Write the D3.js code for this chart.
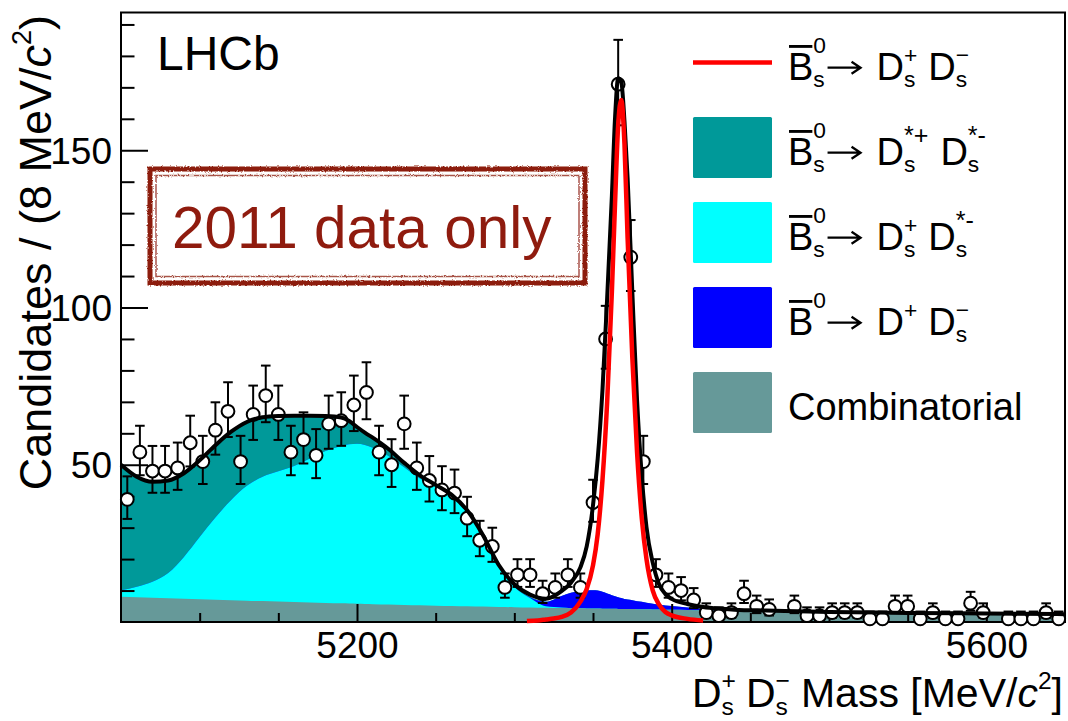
<!DOCTYPE html>
<html><head><meta charset="utf-8">
<script src="https://cdn.jsdelivr.net/npm/d3@7"></script>
<style>
body{margin:0;background:#fff}
svg{display:block}
text{font-family:"Liberation Sans",Arial,Helvetica,sans-serif;fill:#000}
</style>
</head><body>
<svg id="c" width="1068" height="721"></svg>
<script>
// ---------------- data ----------------
const binLow = 5050, binWidth = 8;
const counts = [39,54,48,48,49,57,51,61,67,51,
                66,72,66,54,58,53,63,64,69,73,
                54,50,63,49,45,42,41,33,26,24,
                11,15,15,9,11,15,11,38,90,171,
                116,51,15,11,10,7,3,2,3,9,
                5,4,null,5,2,2,3,3,3,1,
                1,5,5,1,3,1,1,6,3,null,
                1,1,1,3,1];

const massGrid = [5050,5060,5070,5080,5090,5100,5110,5120,5130,5140,
                  5150,5160,5170,5180,5190,5195,5200,5205,5210,5220,
                  5230,5240,5250,5260,5270,5280,5290,5300,5310,5320,
                  5330,5336,5342,5346,5350,5353,5356,5359,5362,5364,
                  5366,5368,5370,5372,5375,5378,5381,5384,5388,5392,
                  5396,5400,5410,5420,5430,5440,5460,5480,5500,5550,
                  5600,5650];
const combVals = [8.0,7.84,7.68,7.52,7.36,7.2,7.06,6.92,6.78,6.64,
                  6.5,6.36,6.22,6.08,5.94,5.87,5.8,5.74,5.68,5.56,
                  5.44,5.32,5.2,5.1,5.0,4.9,4.8,4.7,4.62,4.54,
                  4.46,4.41,4.36,4.33,4.3,4.28,4.25,4.23,4.2,4.19,
                  4.17,4.16,4.14,4.12,4.1,4.08,4.05,4.03,4.0,3.96,
                  3.93,3.9,3.82,3.74,3.66,3.58,3.44,3.32,3.2,2.9,
                  2.7,2.5];
const cyanVals = [2.1,3.36,5.12,8.08,13.34,19.8,26.14,31.88,36.52,39.56,
                  41.4,43.24,45.78,48.32,50.06,50.63,50.9,50.56,49.72,47.24,
                  43.76,40.28,37.8,35.1,30.4,22.7,13.2,6.4,2.98,0.46,
                  0.14,0,0,0,0,0,0,0,0,0,
                  0,0,0,0,0,0,0,0,0,0,
                  0,0,0,0,0,0,0,0,0,0,
                  0,0];
const tealVals = [39.9,35.0,31.8,29.4,26.6,24.4,23.0,21.7,20.3,18.9,
                  17.6,16.0,13.6,11.1,9.0,7.4,5.3,3.9,3.2,2.2,
                  1.4,1.0,0.6,0.3,0.1,0.1,0.2,0.5,0.3,0.1,
                  0,0,0,0,0,0,0,0,0,0,
                  0,0,0,0,0,0,0,0,0,0,
                  0,0,0,0,0,0,0,0,0,0,
                  0,0];
const blueVals = [0,0,0,0,0,0,0,0,0,0,
                  0,0,0,0,0,0,0,0,0,0,
                  0,0,0,0,0,0,0,0,0.2,1.4,
                  3.7,4.9,5.5,5.7,5.8,5.7,5.35,4.8,4.3,4.0,
                  3.7,3.45,3.15,3.0,2.8,2.5,2.35,2.1,1.8,1.55,
                  1.35,1.15,0.8,0.45,0.2,0.05,0,0,0,0,
                  0,0];
// signal part contained in the total fit (black line)
const fitSigVals = [0,0,0,0,0,0,0,0,0,0,
                    0,0,0,0,0,0,0,0,0,0,
                    0,0,0,0,0,0,0,0.4,0.6,0.9,
                    1.5,3.2,7.5,14,27,42,64,94,127,152,
                    165,164,152,134,98,64,40,24,13,6.5,
                    3.6,2.3,1.1,0.6,0.4,0.3,0.2,0.1,0,0,
                    0,0];
// red signal component curve
const sigMass = [5308,5315,5320,5325,5330,5336,5342,5346,5350,5353,
                 5356,5359,5362,5364,5366,5368,5370,5372,5375,5378,
                 5381,5384,5388,5392,5396,5400,5410,5420];
const sigVals = [0.3,0.5,0.8,1.1,1.6,3.0,6.5,10.5,18,28,
                 45,70,105,133,158,166,152,122,84,54,
                 33,20,10,5.5,3.2,2.1,1.0,0.5];

const yMajor = [50,100,150];
const xMajor = [5200,5400,5600];

// ---------------- layout ----------------
const svg = d3.select('#c');
const X0 = 121, X1 = 1065, Y0 = 622, Y1 = 12.5;
const x = d3.scaleLinear().domain([5050,5650]).range([X0,X1]);
const y = d3.scaleLinear().domain([0,193.8]).range([Y0,Y1]);

const defs = svg.append('defs');
defs.append('clipPath').attr('id','clip')
  .append('rect').attr('x',X0).attr('y',Y1).attr('width',X1-X0).attr('height',Y0-Y1);
const rough = defs.append('filter').attr('id','rough').attr('x','-5%').attr('y','-5%').attr('width','110%').attr('height','110%');
rough.append('feTurbulence').attr('type','fractalNoise').attr('baseFrequency','0.6').attr('numOctaves',2).attr('seed',3).attr('result','n');
rough.append('feDisplacementMap').attr('in','SourceGraphic').attr('in2','n').attr('scale',3).attr('xChannelSelector','R').attr('yChannelSelector','G');

// stacked background components
const rows = massGrid.map((m,i)=>({m, comb:combVals[i], cyan:cyanVals[i], blue:blueVals[i], teal:tealVals[i]}));
const keys = ['comb','cyan','blue','teal'];
const colors = {comb:'#669999', cyan:'#00ffff', blue:'#0000ff', teal:'#009999'};
const stacked = d3.stack().keys(keys)(rows);
const gF = svg.append('g').attr('clip-path','url(#clip)');
for (let k = keys.length-1; k >= 0; k--) {
  const area = d3.area()
    .x(d=>x(d.data.m)).y0(y(0)).y1(d=>y(d[1]))
    .curve(d3.curveMonotoneX);
  gF.append('path').datum(stacked[k]).attr('d',area).attr('fill',colors[keys[k]]);
}

// axes
const gA = svg.append('g');
const yAx = d3.axisLeft(y).tickValues(yMajor).tickSize(-27).tickPadding(9).tickFormat(d3.format('d'));
const yAxMin = d3.axisLeft(y).tickValues(d3.range(10,194,10).filter(v=>!yMajor.includes(v))).tickSize(-13.5).tickFormat('');
const xAx = d3.axisBottom(x).tickValues(xMajor).tickSize(-18).tickPadding(10).tickFormat(d3.format('d'));
const xAxMin = d3.axisBottom(x).tickValues(d3.range(5100,5650,50).filter(v=>!xMajor.includes(v))).tickSize(-9).tickFormat('');
function style(g){
  g.select('.domain').remove();
  g.selectAll('line').attr('stroke','#000').attr('stroke-width',2);
  g.selectAll('text').attr('font-size',37).attr('font-family','"Liberation Sans",Arial,sans-serif').attr('fill','#000');
}
gA.append('g').attr('transform',`translate(${X0},0)`).call(yAxMin).call(style);
gA.append('g').attr('transform',`translate(${X0},0)`).call(yAx).call(style)
  .selectAll('text').attr('dy','0.35em');
gA.append('g').attr('transform',`translate(0,${Y0})`).call(xAxMin).call(style);
gA.append('g').attr('transform',`translate(0,${Y0})`).call(xAx).call(style);
gA.append('rect').attr('x',X0).attr('y',Y1).attr('width',X1-X0).attr('height',Y0-Y1)
  .attr('fill','none').attr('stroke','#000').attr('stroke-width',2);

// data points
const pts = counts.map((n,i)=>({m: binLow + binWidth*(i+0.5), n})).filter(d=>d.n!==null);
const gD = svg.append('g');
pts.forEach(d=>{
  const lo = d.n - Math.sqrt(Math.max(d.n-0.25,0));
  const hi = d.n + Math.sqrt(d.n+0.75) + 1;
  const cx = x(d.m);
  gD.append('line').attr('x1',cx).attr('x2',cx).attr('y1',y(lo)).attr('y2',y(hi)).attr('stroke','#000').attr('stroke-width',2);
  gD.append('line').attr('x1',cx-4.8).attr('x2',cx+4.8).attr('y1',y(hi)).attr('y2',y(hi)).attr('stroke','#000').attr('stroke-width',2);
  gD.append('line').attr('x1',cx-4.8).attr('x2',cx+4.8).attr('y1',y(lo)).attr('y2',y(lo)).attr('stroke','#000').attr('stroke-width',2);
});
pts.forEach(d=>{
  gD.append('circle').attr('cx',x(d.m)).attr('cy',y(d.n)).attr('r',6.4)
    .attr('fill','#fff').attr('stroke','#000').attr('stroke-width',2);
});

// total fit (black) and signal (red)
const totals = massGrid.map((m,i)=>({m, v: combVals[i]+cyanVals[i]+blueVals[i]+tealVals[i]+fitSigVals[i]}));
svg.append('path').datum(totals)
  .attr('d', d3.line().x(d=>x(d.m)).y(d=>y(d.v)).curve(d3.curveMonotoneX))
  .attr('fill','none').attr('stroke','#000').attr('stroke-width',4).attr('stroke-linejoin','round');
const sig = sigMass.map((m,i)=>({m, v: sigVals[i]}));
svg.append('path').datum(sig)
  .attr('d', d3.line().x(d=>x(d.m)).y(d=>y(d.v)).curve(d3.curveMonotoneX))
  .attr('fill','none').attr('stroke','#ff0000').attr('stroke-width',4.5).attr('stroke-linejoin','round');

// ---------------- rich text helper ----------------
function rich(parent, x0, y0, size, parts) {
  let cx = x0;
  parts.forEach(p=>{
    if (p.sp) { cx += p.sp; return; }
    if (p.arrow) {
      const ay = y0 - size*0.31, L = p.arrow;
      parent.append('path').attr('d',`M${cx},${ay}H${cx+L}M${cx+L-9},${ay-6}L${cx+L},${ay}L${cx+L-9},${ay+6}`)
        .attr('fill','none').attr('stroke','#000').attr('stroke-width',size*0.06);
      cx += L; return;
    }
    if (p.t !== undefined) {
      const t = parent.append('text').attr('x',cx).attr('y',y0).attr('font-size',size).text(p.t);
      if (p.it) t.attr('font-style','italic');
      const w = t.node().getComputedTextLength();
      if (p.bar) parent.append('line').attr('x1',cx+1).attr('x2',cx+w-1)
        .attr('y1',y0-size*0.87).attr('y2',y0-size*0.87).attr('stroke','#000').attr('stroke-width',size*0.075);
      cx += w; return;
    }
    let w = 0;
    const ss = size*0.6;
    if (p.sub) { const t = parent.append('text').attr('x',cx).attr('y',y0+size*0.2).attr('font-size',ss).text(p.sub); w = Math.max(w,t.node().getComputedTextLength()); }
    if (p.sup) {
      const off = p.hi ? 0.71 : (p.big ? 0.54 : 0.44);
      const t = parent.append('text').attr('x',cx).attr('y',y0-size*off).attr('font-size',size*(p.big?0.66:0.6)).text(p.sup);
      w = Math.max(w,t.node().getComputedTextLength());
    }
    cx += w;
  });
  return cx - x0;
}

// ---------------- legend ----------------
const legendLabels = [
  [{t:'B',bar:1},{sub:'s',sup:'0',hi:1},{sp:1.5},{arrow:33},{sp:16},{t:'D'},{sub:'s',sup:'+'},{sp:11},{t:'D'},{sub:'s',sup:'\u2212'}],
  [{t:'B',bar:1},{sub:'s',sup:'0',hi:1},{sp:1.5},{arrow:33},{sp:16},{t:'D'},{sub:'s',sup:'*+',big:1},{sp:12},{t:'D'},{sub:'s',sup:'*-',big:1}],
  [{t:'B',bar:1},{sub:'s',sup:'0',hi:1},{sp:1.5},{arrow:33},{sp:16},{t:'D'},{sub:'s',sup:'+'},{sp:11},{t:'D'},{sub:'s',sup:'*-',big:1}],
  [{t:'B',bar:1},{sup:'0',hi:1},{sp:1.5},{arrow:33},{sp:16},{t:'D'},{sup:'+'},{sp:11},{t:'D'},{sub:'s',sup:'\u2212'}],
  [{t:'Combinatorial'}]
];
const legendTypes = ['line','box','box','box','box'];
const legendColors = ['#ff0000','#009999','#00ffff','#0000ff','#669999'];
const gL = svg.append('g');
legendLabels.forEach((parts,i)=>{
  const cy = 62.5 + 85*i;
  if (legendTypes[i]==='line') {
    gL.append('line').attr('x1',693).attr('x2',772).attr('y1',cy).attr('y2',cy).attr('stroke',legendColors[i]).attr('stroke-width',4.5);
  } else {
    gL.append('rect').attr('x',693).attr('y',cy-30.5).attr('width',79).attr('height',61).attr('rx',1.5).attr('fill',legendColors[i]);
  }
  rich(gL, 788, cy+17, 38, parts);
});

// ---------------- texts ----------------
svg.append('text').attr('x',157).attr('y',70).attr('font-size',48).text('LHCb');

// stamp
const gS = svg.append('g');
gS.append('rect').attr('x',150).attr('y',169).attr('width',435).attr('height',114)
  .attr('fill','none').attr('stroke','#8c1a0b').attr('stroke-width',5).attr('filter','url(#rough)');
gS.append('rect').attr('x',156).attr('y',175.5).attr('width',423).attr('height',101)
  .attr('fill','none').attr('stroke','#8c1a0b').attr('stroke-width',1.5).attr('opacity',0.75).attr('filter','url(#rough)');
gS.append('text').attr('x',172).attr('y',248).attr('font-size',58.5).style('fill','#8f1b0e').text('2011 data only');

// x title
const gX = svg.append('g');
const wX = rich(gX, 0, 0, 41, [{t:'D'},{sub:'s',sup:'+'},{sp:10},{t:'D'},{sub:'s',sup:'\u2212'},{sp:11},{t:'Mass [MeV/'},{t:'c',it:1},{sup:'2'},{t:']'}]);
gX.attr('transform',`translate(${1063-wX},707)`);

// y title
const gY = svg.append('g');
const wY = rich(gY, 0, 0, 45, [{t:'Candidates / (8 MeV/'},{t:'c',it:1},{sup:'2'},{t:')'}]);
gY.attr('transform',`translate(51,${15+wY}) rotate(-90)`);
</script>
</body></html>
